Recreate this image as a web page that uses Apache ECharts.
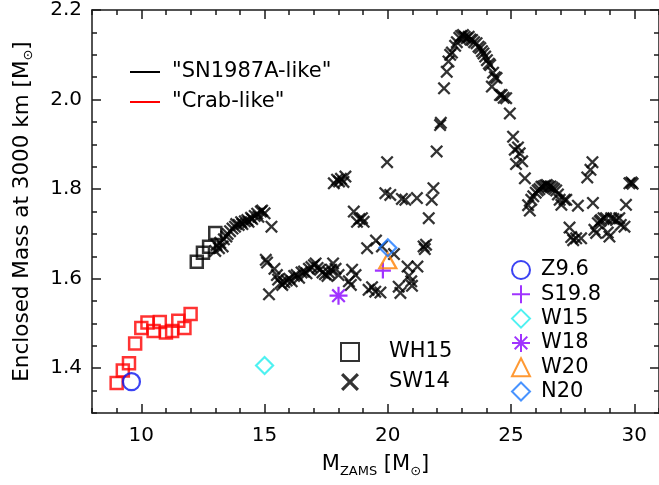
<!DOCTYPE html>
<html><head><meta charset="utf-8">
<script src="https://cdn.jsdelivr.net/npm/echarts@6/dist/echarts.min.js"></script>
<style>html,body{margin:0;padding:0;background:#fff}#c{width:659px;height:485px}</style>
</head><body><div id="c"></div><script>
// ---- data (M_ZAMS, enclosed mass) ----
const crabWH15 = [[9.0,1.367],[9.25,1.395],[9.5,1.411],[9.75,1.455],[10.0,1.490],[10.25,1.502],[10.5,1.483],[10.75,1.503],[11.0,1.480],[11.25,1.483],[11.5,1.506],[11.75,1.490],[12.0,1.521]];
const snWH15 = [[12.25,1.638],[12.5,1.658],[12.75,1.671],[13.0,1.702]];
const sw14SegA = [[13.0,1.662],[13.05,1.675],[13.15,1.668],[13.2,1.680],[13.3,1.672],[13.35,1.688],[13.45,1.694],[13.5,1.700],[13.6,1.706],[13.7,1.712],[13.8,1.716],[13.85,1.722],[13.95,1.720],[14.05,1.726],[14.1,1.722],[14.2,1.728],[14.3,1.731],[14.35,1.727],[14.45,1.736],[14.5,1.733],[14.6,1.740],[14.7,1.745],[14.75,1.738],[14.85,1.750],[14.9,1.752],[15.0,1.746]];
const sw14SegB = [[15.05,1.642],[15.1,1.636],[15.18,1.565],[15.28,1.716],[15.4,1.622],[15.5,1.608],[15.55,1.598],[15.65,1.590],[15.72,1.586],[15.8,1.592],[15.9,1.596],[16.0,1.600],[16.1,1.594],[16.2,1.606],[16.3,1.608],[16.4,1.602],[16.5,1.614],[16.6,1.616],[16.7,1.612],[16.8,1.622],[16.9,1.626],[17.0,1.630],[17.07,1.634],[17.15,1.624],[17.25,1.620],[17.35,1.614],[17.45,1.610],[17.55,1.606],[17.6,1.614],[17.7,1.620],[17.78,1.634],[17.88,1.622],[18.0,1.608]];
const sw14SegC = [[17.81,1.813],[17.94,1.821],[18.02,1.817],[18.1,1.823],[18.2,1.816],[18.28,1.828],[18.42,1.594],[18.5,1.586],[18.55,1.620],[18.62,1.750],[18.69,1.608],[18.75,1.727],[18.85,1.733],[18.95,1.735],[19.02,1.727],[19.16,1.668],[19.22,1.575],[19.36,1.581],[19.49,1.571],[19.52,1.685],[19.70,1.569],[19.76,1.672],[19.9,1.791],[19.97,1.860],[20.1,1.787]];
const sw14SegD = [[20.25,1.655],[20.44,1.582],[20.51,1.568],[20.57,1.778],[20.71,1.776],[20.8,1.627],[20.86,1.606],[20.95,1.594],[20.98,1.584],[21.18,1.780],[21.2,1.627],[21.45,1.672],[21.5,1.666],[21.55,1.676],[21.66,1.735],[21.78,1.776],[21.85,1.802],[21.98,1.884]];
const sw14SegE = [[22.12,1.943],[22.15,1.948],[22.28,2.025],[22.39,2.062],[22.46,2.085],[22.53,2.100],[22.6,2.105],[22.73,2.120],[22.8,2.128],[22.9,2.138],[22.97,2.142],[23.05,2.144],[23.12,2.140],[23.2,2.137],[23.28,2.140],[23.35,2.134],[23.42,2.133],[23.5,2.128],[23.6,2.126],[23.68,2.118],[23.75,2.115],[23.82,2.108],[23.88,2.103],[23.95,2.096],[24.02,2.088],[24.1,2.080],[24.15,2.077],[24.22,2.029],[24.27,2.060],[24.34,2.050],[24.41,2.048],[24.55,2.010],[24.62,2.010],[24.7,2.004],[24.8,2.003],[24.95,1.969],[25.08,1.917],[25.15,1.888],[25.28,1.893],[25.35,1.880],[25.2,1.856],[25.45,1.862],[25.56,1.824]];
const sw14SegF = [[25.69,1.764],[25.76,1.752],[25.82,1.776],[25.9,1.784],[26.0,1.792],[26.08,1.797],[26.15,1.800],[26.23,1.805],[26.3,1.806],[26.38,1.808],[26.45,1.809],[26.52,1.806],[26.6,1.806],[26.68,1.803],[26.75,1.800],[26.83,1.797],[26.9,1.788],[26.97,1.776],[27.04,1.765],[27.17,1.776],[27.24,1.776],[27.37,1.714],[27.44,1.693],[27.52,1.686],[27.64,1.690],[27.71,1.763],[27.84,1.690],[28.09,1.826],[28.22,1.843],[28.3,1.860],[28.32,1.769],[28.38,1.709],[28.45,1.702],[28.52,1.724],[28.6,1.728],[28.65,1.731],[28.75,1.735],[28.85,1.735],[28.92,1.703],[28.99,1.694],[29.06,1.735],[29.15,1.733],[29.26,1.731],[29.39,1.735],[29.45,1.720],[29.6,1.716],[29.66,1.765],[29.8,1.813],[29.88,1.815],[29.93,1.812]];
const z96 = [[9.6,1.370]];
const s198 = [[19.8,1.618]];
const w15 = [[15.0,1.406]];
const w18 = [[18.0,1.562]];
const w20 = [[20.0,1.640]];
const n20 = [[20.0,1.669]];
// ---- ticks ----
const xMajorTicks = [10,15,20,25,30];
const xMinorTicks = [8,9,10,11,12,13,14,15,16,17,18,19,20,21,22,23,24,25,26,27,28,29,30,31];
const yMajorTicks = [1.4,1.6,1.8,2.0,2.2];
const yMinorTicks = [1.3,1.35,1.4,1.45,1.5,1.55,1.6,1.65,1.7,1.75,1.8,1.85,1.9,1.95,2.0,2.05,2.1,2.15,2.2];

const sw14 = [].concat(sw14SegA, sw14SegB, sw14SegC, sw14SegD, sw14SegE, sw14SegF);

const FONT = 'DejaVu Sans';
// filled "X" glyph (diagonal cross)
const X_PATH = 'path://M0,1.25L1.25,0L5,3.75L8.75,0L10,1.25L6.25,5L10,8.75L8.75,10L5,6.25L1.25,10L0,8.75L3.75,5Z';
const PLUS_PATH = 'path://M5,0L5,10M0,5L10,5';
const AST_PATH = 'path://M5,0L5,10M0,5L10,5M1.5,1.5L8.5,8.5M8.5,1.5L1.5,8.5';
const AXC = '#1a1a1a';

function hollow(c, w) { return {color: 'transparent', borderColor: c, borderWidth: w || 2}; }

function xAx(pos, ticks, len, major) {
  return {
    type: 'value', min: 8, max: 31, position: pos, gridIndex: 0,
    axisLine: {show: major, onZero: false, lineStyle: {color: AXC, width: 1.5}},
    axisTick: {show: true, inside: true, length: len, customValues: ticks, lineStyle: {color: AXC, width: 1.5}},
    axisLabel: (major && pos === 'bottom') ? {show: true, customValues: xMajorTicks, margin: 13, color: '#000', fontFamily: FONT, fontSize: 20} : {show: false},
    splitLine: {show: false},
    name: (major && pos === 'bottom') ? '{m|M}{s|ZAMS}{m| [M}{s|⊙}{m|]}' : '',
    nameLocation: 'middle', nameGap: 38,
    nameTextStyle: {rich: {
      m: {fontFamily: FONT, fontSize: 21, lineHeight: 24, color: '#000'},
      s: {fontFamily: FONT, fontSize: 13, lineHeight: 14, padding: [14, 0, 0, 0], color: '#000'}
    }}
  };
}
function yAx(pos, ticks, len, major) {
  return {
    type: 'value', min: 1.3, max: 2.2, position: pos, gridIndex: 0,
    axisLine: {show: major, onZero: false, lineStyle: {color: AXC, width: 1.5}},
    axisTick: {show: true, inside: true, length: len, customValues: ticks, lineStyle: {color: AXC, width: 1.5}},
    axisLabel: (major && pos === 'left') ? {show: true, customValues: yMajorTicks, margin: 10, color: '#000', fontFamily: FONT, fontSize: 20, formatter: v => v.toFixed(1)} : {show: false},
    splitLine: {show: false},
    name: (major && pos === 'left') ? '{m|Enclosed Mass at 3000 km [M}{s|⊙}{m|]}' : '',
    nameLocation: 'middle', nameGap: 58, nameRotate: 90,
    nameTextStyle: {rich: {
      m: {fontFamily: FONT, fontSize: 21.5, lineHeight: 24, color: '#000'},
      s: {fontFamily: FONT, fontSize: 13, lineHeight: 14, padding: [14, 0, 0, 0], color: '#000'}
    }}
  };
}

const chart = echarts.init(document.getElementById('c'), null, {renderer: 'canvas'});
const legText = (pad) => ({fontFamily: FONT, fontSize: 21, lineHeight: 22, color: '#000', padding: [0, 0, 0, pad]});
chart.setOption({
  animation: false,
  backgroundColor: '#fff',
  grid: {left: 92, top: 10, width: 570, height: 403, containLabel: false},
  xAxis: [xAx('bottom', xMajorTicks, 9, true), xAx('bottom', xMinorTicks, 5, false), xAx('top', xMajorTicks, 9, true), xAx('top', xMinorTicks, 5, false)],
  yAxis: [yAx('left', yMajorTicks, 9, true), yAx('left', yMinorTicks, 5, false), yAx('right', yMajorTicks, 9, true), yAx('right', yMinorTicks, 5, false)],
  legend: [
    {data: [{name: '"SN1987A-like"', icon: 'rect'}, {name: '"Crab-like"', icon: 'rect'}], orient: 'vertical', left: 130, top: 61, padding: 0,
     itemWidth: 30, itemHeight: 2, itemGap: 8, selectedMode: false, textStyle: legText(7)},
    {data: ['WH15', 'SW14'], orient: 'vertical', left: 340, top: 341, padding: 0,
     itemWidth: 18, itemHeight: 18, itemGap: 8, selectedMode: false, textStyle: legText(25)},
    {data: ['Z9.6', 'S19.8', 'W15', 'W18', 'W20', 'N20'], orient: 'vertical', left: 511, top: 259, padding: 0,
     itemWidth: 18, itemHeight: 18, itemGap: 2.3, selectedMode: false, textStyle: legText(6)}
  ],
  series: [
    {name: '"SN1987A-like"', type: 'line', data: [], color: '#000', symbol: 'none'},
    {name: '"Crab-like"', type: 'line', data: [], color: '#ff0000', symbol: 'none'},
    {name: 'SW14', type: 'scatter', data: sw14, symbol: X_PATH, symbolSize: 13, itemStyle: {color: '#000', borderWidth: 0}},
    {name: 'WH15', type: 'scatter', data: snWH15, symbol: 'rect', symbolSize: 12, itemStyle: hollow('#000', 2.5)},
    {name: 'WH15 Crab-like', type: 'scatter', data: crabWH15, symbol: 'rect', symbolSize: 12, itemStyle: hollow('#ff0000', 2.5)},
    {name: 'Z9.6', type: 'scatter', data: z96, symbol: 'circle', symbolSize: 17, itemStyle: hollow('#0a14f0', 2.2)},
    {name: 'S19.8', type: 'scatter', data: s198, symbol: PLUS_PATH, symbolSize: 16, itemStyle: hollow('#8800ff', 2.2)},
    {name: 'W15', type: 'scatter', data: w15, symbol: 'diamond', symbolSize: 17, itemStyle: hollow('#22eeee', 2.2)},
    {name: 'W18', type: 'scatter', data: w18, symbol: AST_PATH, symbolSize: 18, itemStyle: hollow('#8800ff', 2.2)},
    {name: 'W20', type: 'scatter', data: w20, symbol: 'triangle', symbolSize: [17, 15], itemStyle: hollow('#ff8000', 2.2)},
    {name: 'N20', type: 'scatter', data: n20, symbol: 'diamond', symbolSize: 17, itemStyle: hollow('#1a78ff', 2.2)}
  ]
});
</script></body></html>
